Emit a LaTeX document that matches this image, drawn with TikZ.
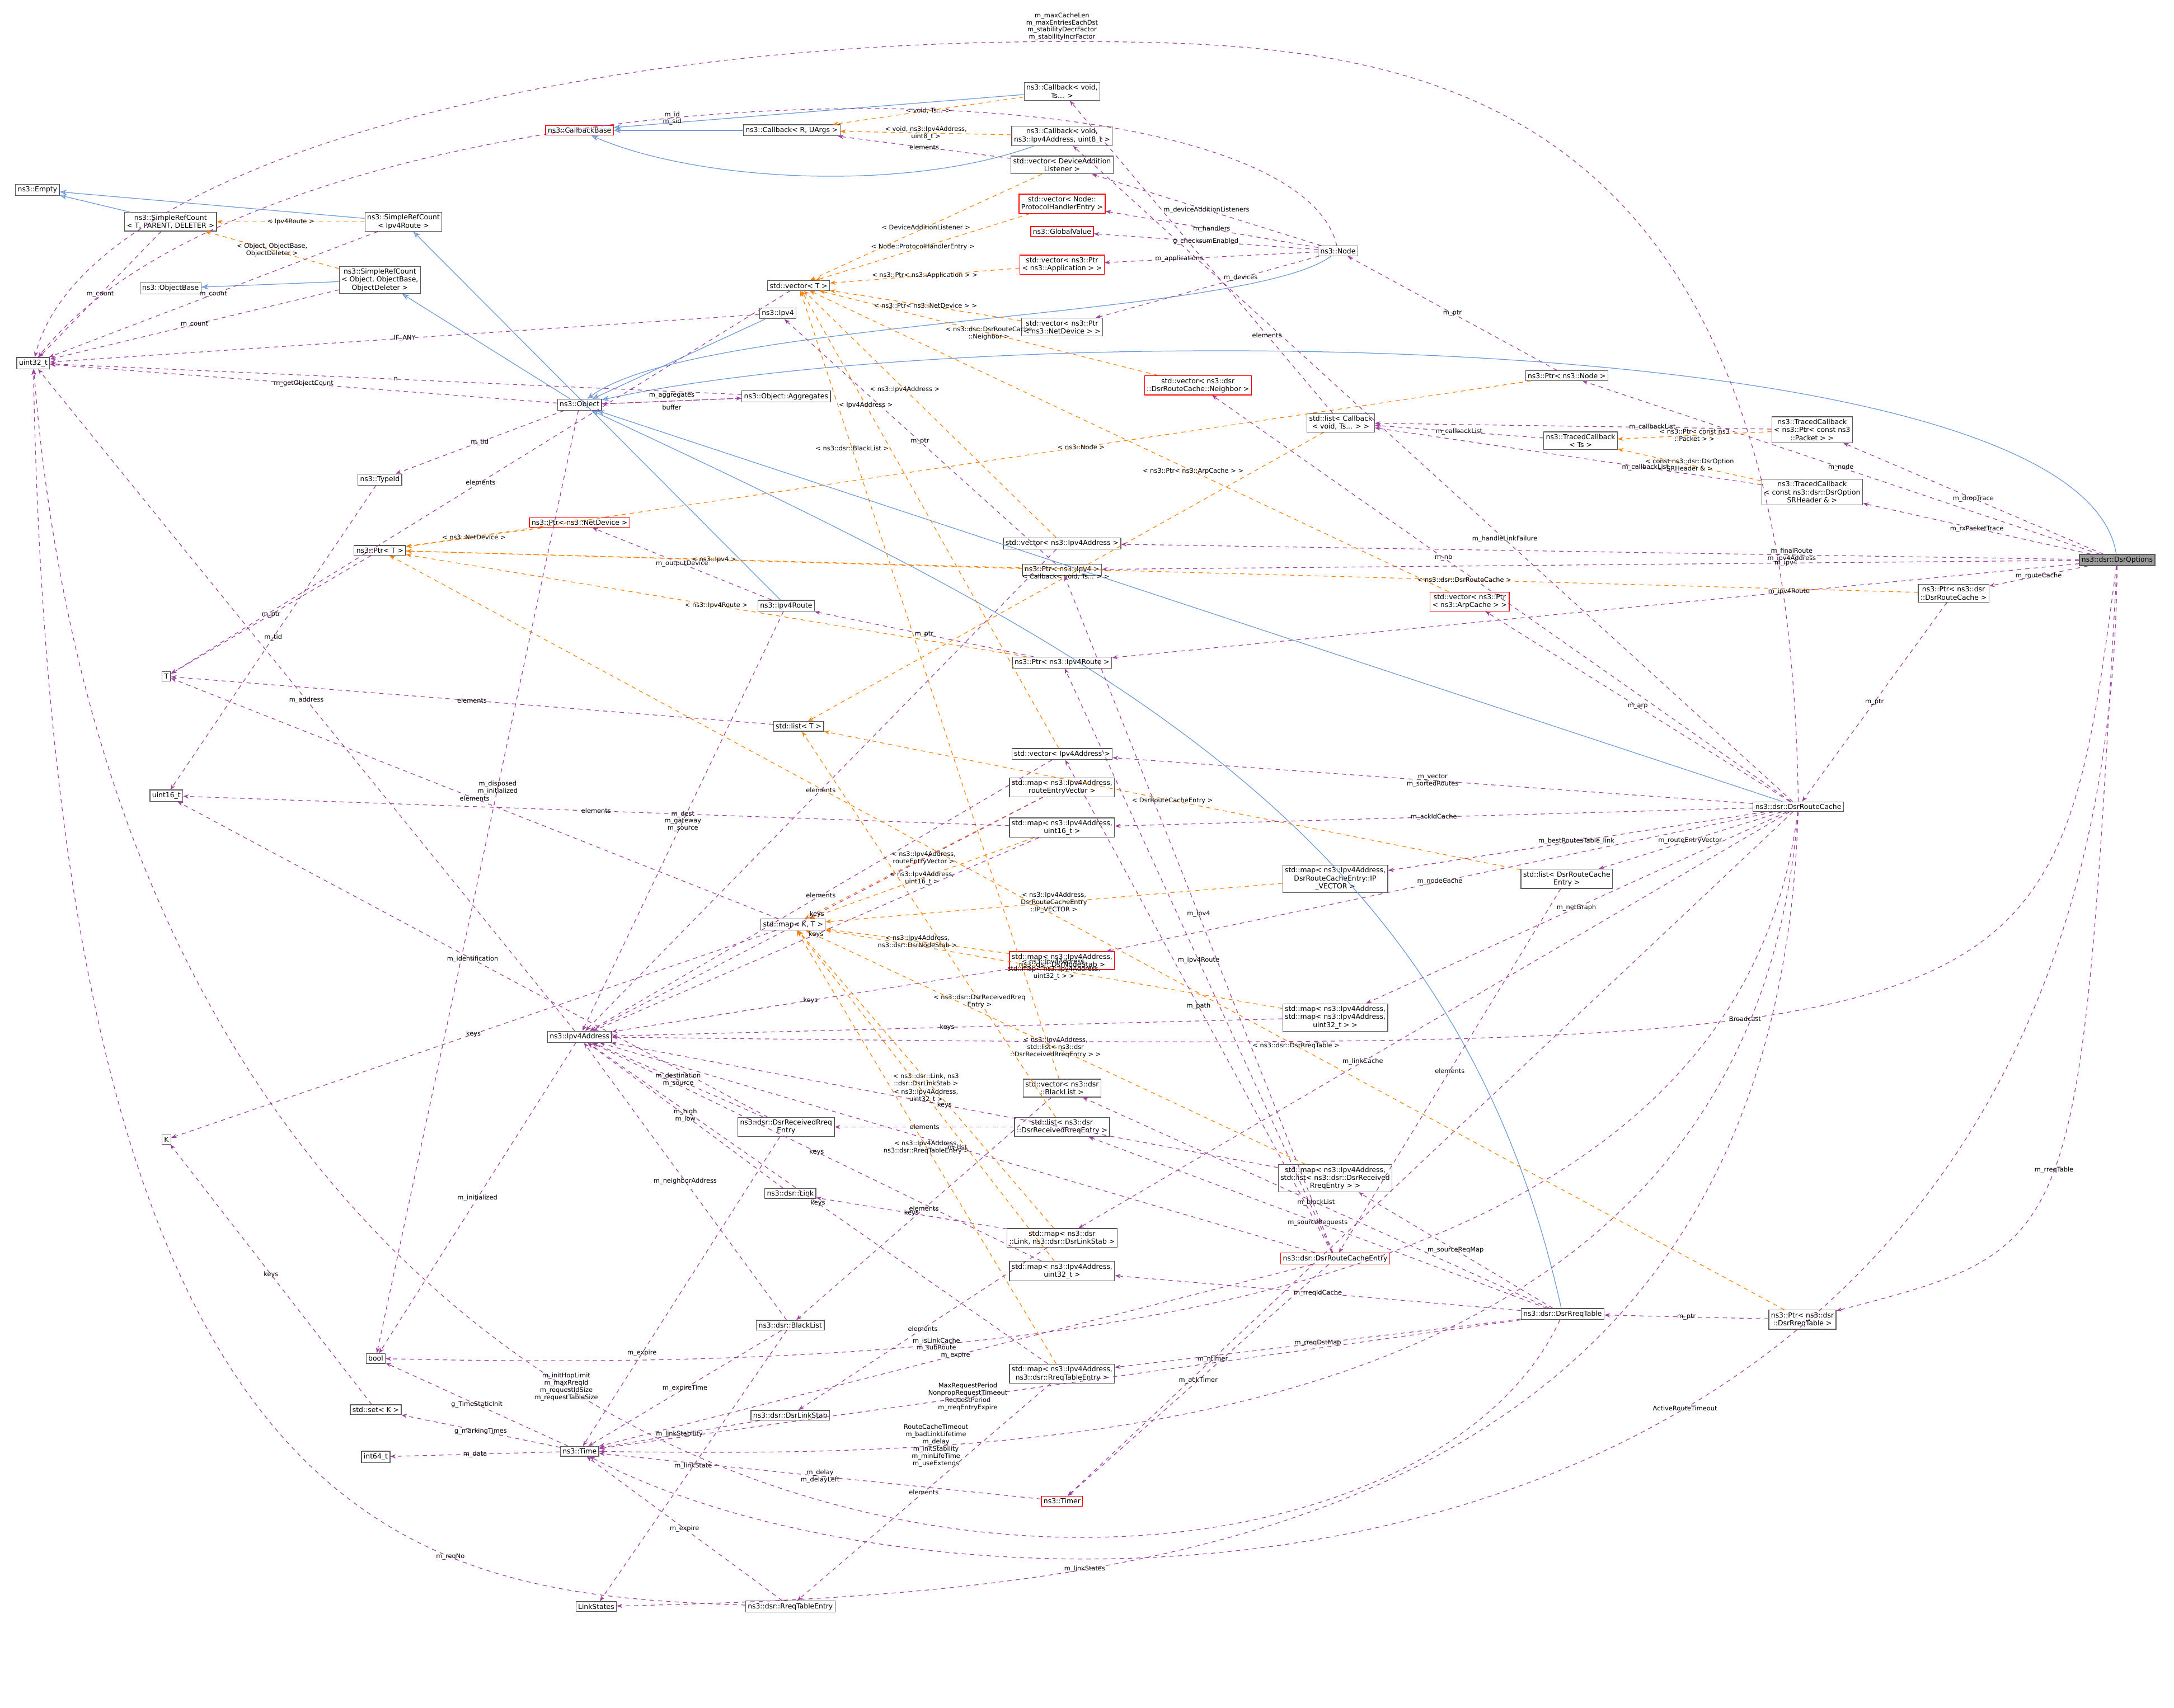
\documentclass[tikz,border=0pt]{standalone}
\usepackage{fontspec}
\setmainfont{DejaVu Sans}
\usetikzlibrary{arrows.meta}
\tikzset{every picture/.style={line width=0.5pt}}
\tikzset{
  cls/.style={draw=black!65, fill=white, font=\fontsize{5}{5.8}\selectfont, align=center, inner sep=1.6pt},
  redcls/.style={cls, draw=red},
  hicls/.style={cls, fill=black!40},
  use/.style={draw=violet!75, dashed, -{Stealth[length=4pt,width=3pt]}},
  tmpl/.style={draw=orange, dashed, -{Stealth[length=4pt,width=3pt]}},
  inh/.style={draw=cyan!50!blue!60, -{Stealth[length=5pt,width=4pt,fill=cyan!50!blue!30]}},
  lbl/.style={font=\fontsize{4.6}{5.2}\selectfont, align=center, inner sep=0.5pt, text=black}
}
\begin{document}
\begin{tikzpicture}[x=1pt,y=1pt,yscale=-1]
\useasboundingbox (0,0) rectangle (1568,1232);

% Classes
\node[hicls] (opts) at (1527,404) {ns3::dsr::DsrOptions};
\node[cls] (pRC) at (1409,428) {ns3::Ptr< ns3::dsr\\::DsrRouteCache >};
\node[cls] (rc) at (1297,582) {ns3::dsr::DsrRouteCache};
\node[cls] (pRT) at (1300,952) {ns3::Ptr< ns3::dsr\\::DsrRreqTable >};
\node[cls] (rt) at (1127,948) {ns3::dsr::DsrRreqTable};
\node[cls] (tcPkt) at (1307,310) {ns3::TracedCallback\\< ns3::Ptr< const ns3\\::Packet > >};
\node[cls] (tcOpt) at (1307,355) {ns3::TracedCallback\\< const ns3::dsr::DsrOption\\SRHeader \& >};
\node[cls] (tcTs) at (1140,318) {ns3::TracedCallback\\< Ts >};
\node[cls] (lstCb) at (967,305) {std::list< Callback\\< void, Ts... > >};
\node[cls] (pNode) at (1130,271) {ns3::Ptr< ns3::Node >};
\node[cls] (node) at (965,181) {ns3::Node};
\node[cls] (cbVoid) at (766,66) {ns3::Callback< void,\\Ts... >};
\node[cls] (cbAddr) at (766,98) {ns3::Callback< void,\\ns3::Ipv4Address, uint8\_t >};
\node[cls] (vDev) at (766,119) {std::vector< DeviceAddition\\Listener >};
\node[redcls] (vPh) at (766,147) {std::vector< Node::\\ProtocolHandlerEntry >};
\node[redcls] (gval) at (766,167) {ns3::GlobalValue};
\node[redcls] (vApp) at (766,191) {std::vector< ns3::Ptr\\< ns3::Application > >};
\node[cls] (vNd) at (766,236) {std::vector< ns3::Ptr\\< ns3::NetDevice > >};
\node[redcls] (vNb) at (864,278) {std::vector< ns3::dsr\\::DsrRouteCache::Neighbor >};
\node[redcls] (cbBase) at (418,94) {ns3::CallbackBase};
\node[cls] (cbR) at (571,94) {ns3::Callback< R, UArgs >};
\node[cls] (empty) at (27,137) {ns3::Empty};
\node[cls] (srcT) at (123,160) {ns3::SimpleRefCount\\< T, PARENT, DELETER >};
\node[cls] (srcRoute) at (291,160) {ns3::SimpleRefCount\\< Ipv4Route >};
\node[cls] (objBase) at (123,208) {ns3::ObjectBase};
\node[cls] (srcObj) at (274,202) {ns3::SimpleRefCount\\< Object, ObjectBase,\\ObjectDeleter >};
\node[cls] (vecT) at (576,206) {std::vector< T >};
\node[cls] (ipv4) at (561,226) {ns3::Ipv4};
\node[cls] (u32) at (24,262) {uint32\_t};
\node[cls] (obj) at (418,292) {ns3::Object};
\node[cls] (aggr) at (567,286) {ns3::Object::Aggregates};
\node[cls] (tid) at (274,346) {ns3::TypeId};
\node[redcls] (pNd) at (418,377) {ns3::Ptr< ns3::NetDevice >};
\node[cls] (ptrT) at (274,397) {ns3::Ptr< T >};
\node[cls] (vAddr) at (766,392) {std::vector< ns3::Ipv4Address >};
\node[cls] (pIpv4) at (766,411) {ns3::Ptr< ns3::Ipv4 >};
\node[redcls] (vArp) at (1060,434) {std::vector< ns3::Ptr\\< ns3::ArpCache > >};
\node[cls] (pRoute) at (766,478) {ns3::Ptr< ns3::Ipv4Route >};
\node[cls] (route) at (567,437) {ns3::Ipv4Route};
\node[cls] (T) at (120,488) {T};
\node[cls] (lstT) at (576,524) {std::list< T >};
\node[cls] (vAddr2) at (766,544) {std::vector< Ipv4Address >};
\node[cls] (mRev) at (766,568) {std::map< ns3::Ipv4Address,\\routeEntryVector >};
\node[cls] (mU16) at (766,597) {std::map< ns3::Ipv4Address,\\uint16\_t >};
\node[cls] (u16) at (120,574) {uint16\_t};
\node[cls] (mapKT) at (572,667) {std::map< K, T >};
\node[redcls] (mStab) at (766,693) {std::map< ns3::Ipv4Address,\\ns3::dsr::DsrNodeStab >};
\node[cls] (mIpv) at (963,634) {std::map< ns3::Ipv4Address,\\DsrRouteCacheEntry::IP\\\_VECTOR >};
\node[cls] (lstEntry) at (1130,634) {std::list< DsrRouteCache\\Entry >};
\node[cls] (mMap) at (963,734) {std::map< ns3::Ipv4Address,\\std::map< ns3::Ipv4Address,\\uint32\_t > >};
\node[cls] (addr) at (418,748) {ns3::Ipv4Address};
\node[cls] (K) at (120,822) {K};
\node[cls] (rxEntry) at (567,813) {ns3::dsr::DsrReceivedRreq\\Entry};
\node[cls] (vBl) at (766,785) {std::vector< ns3::dsr\\::BlackList >};
\node[cls] (lstRx) at (766,813) {std::list< ns3::dsr\\::DsrReceivedRreqEntry >};
\node[cls] (mLst) at (963,850) {std::map< ns3::Ipv4Address,\\std::list< ns3::dsr::DsrReceived\\RreqEntry > >};
\node[cls] (link) at (570,861) {ns3::dsr::Link};
\node[cls] (mLink) at (766,893) {std::map< ns3::dsr\\::Link, ns3::dsr::DsrLinkStab >};
\node[cls] (mU32) at (766,917) {std::map< ns3::Ipv4Address,\\uint32\_t >};
\node[redcls] (entry) at (963,908) {ns3::dsr::DsrRouteCacheEntry};
\node[cls] (bl) at (570,956) {ns3::dsr::BlackList};
\node[cls] (mReq) at (766,991) {std::map< ns3::Ipv4Address,\\ns3::dsr::RreqTableEntry >};
\node[cls] (bool) at (271,980) {bool};
\node[cls] (setK) at (271,1017) {std::set< K >};
\node[cls] (linkStab) at (570,1021) {ns3::dsr::DsrLinkStab};
\node[cls] (i64) at (271,1051) {int64\_t};
\node[cls] (time) at (418,1047) {ns3::Time};
\node[redcls] (timer) at (766,1083) {ns3::Timer};
\node[cls] (lstates) at (430,1159) {LinkStates};
\node[cls] (reqEntry) at (570,1159) {ns3::dsr::RreqTableEntry};
\coordinate (topBend) at (766,30);

% Inheritance
\draw[inh] (opts) .. controls (1500,230) and (700,230) .. (obj);
\draw[inh] (rc) -- (obj);
\draw[inh] (rt) .. controls (1050,600) and (800,470) .. (obj);
\draw[inh] (node) .. controls (900,230) and (500,230) .. (obj);
\draw[inh] (ipv4) -- (obj);
\draw[inh] (obj) -- (srcObj);
\draw[inh] (srcObj) -- (objBase);
\draw[inh] (srcT) -- (empty);
\draw[inh] (srcRoute) -- (empty);
\draw[inh] (route) -- (srcRoute);
\draw[inh] (cbVoid) -- (cbBase);
\draw[inh] (cbR) -- (cbBase);
\draw[inh] (cbAddr) .. controls (650,140) and (500,130) .. (cbBase);

% Templates
\draw[tmpl] (cbVoid) -- node[lbl]{< void, Ts... >} (cbR);
\draw[tmpl] (cbAddr) -- node[lbl]{< void, ns3::Ipv4Address,\\uint8\_t >} (cbR);
\draw[tmpl] (srcRoute) -- node[lbl]{< Ipv4Route >} (srcT);
\draw[tmpl] (srcObj) -- node[lbl]{< Object, ObjectBase,\\ObjectDeleter >} (srcT);
\draw[tmpl] (vDev) -- node[lbl]{< DeviceAdditionListener >} (vecT);
\draw[tmpl] (vPh) -- node[lbl]{< Node::ProtocolHandlerEntry >} (vecT);
\draw[tmpl] (vApp) -- node[lbl]{< ns3::Ptr< ns3::Application > >} (vecT);
\draw[tmpl] (vNb) -- node[lbl]{< ns3::dsr::DsrRouteCache\\::Neighbor >} (vecT);
\draw[tmpl] (vNd) -- node[lbl]{< ns3::Ptr< ns3::NetDevice > >} (vecT);
\draw[tmpl] (vArp) -- node[lbl, pos=0.4]{< ns3::Ptr< ns3::ArpCache > >} (vecT);
\draw[tmpl] (vAddr) -- node[lbl, pos=0.6]{< ns3::Ipv4Address >} (vecT);
\draw[tmpl] (vAddr2) -- node[lbl, pos=0.75]{< Ipv4Address >} (vecT);
\draw[tmpl] (vBl) -- node[lbl, pos=0.8]{< ns3::dsr::BlackList >} (vecT);
\draw[tmpl] (pNode) -- node[lbl, pos=0.4]{< ns3::Node >} (ptrT);
\draw[tmpl] (pRC) -- node[lbl, pos=0.3]{< ns3::dsr::DsrRouteCache >} (ptrT);
\draw[tmpl] (pNd) -- node[lbl]{< ns3::NetDevice >} (ptrT);
\draw[tmpl] (pIpv4) -- node[lbl]{< ns3::Ipv4 >} (ptrT);
\draw[tmpl] (pRoute) -- node[lbl]{< ns3::Ipv4Route >} (ptrT);
\draw[tmpl] (pRT) -- node[lbl, pos=0.35]{< ns3::dsr::DsrRreqTable >} (ptrT);
\draw[tmpl] (lstCb) -- node[lbl]{< Callback< void, Ts... > >} (lstT);
\draw[tmpl] (lstEntry) -- node[lbl]{< DsrRouteCacheEntry >} (lstT);
\draw[tmpl] (lstRx) -- node[lbl, pos=0.3]{< ns3::dsr::DsrReceivedRreq\\Entry >} (lstT);
\draw[tmpl] (tcPkt) -- node[lbl]{< ns3::Ptr< const ns3\\::Packet > >} (tcTs);
\draw[tmpl] (tcOpt) -- node[lbl]{< const ns3::dsr::DsrOption\\SRHeader \& >} (tcTs);
\draw[tmpl] (mRev) -- node[lbl]{< ns3::Ipv4Address,\\routeEntryVector >} (mapKT);
\draw[tmpl] (mU16) -- node[lbl]{< ns3::Ipv4Address,\\uint16\_t >} (mapKT);
\draw[tmpl] (mIpv) -- node[lbl]{< ns3::Ipv4Address,\\DsrRouteCacheEntry\\::IP\_VECTOR >} (mapKT);
\draw[tmpl] (mMap) -- node[lbl]{< ns3::Ipv4Address,\\std::map< ns3::Ipv4Address,\\uint32\_t > >} (mapKT);
\draw[tmpl] (mStab) -- node[lbl]{< ns3::Ipv4Address,\\ns3::dsr::DsrNodeStab >} (mapKT);
\draw[tmpl] (mLst) -- node[lbl]{< ns3::Ipv4Address,\\std::list< ns3::dsr\\::DsrReceivedRreqEntry > >} (mapKT);
\draw[tmpl] (mLink) -- node[lbl]{< ns3::dsr::Link, ns3\\::dsr::DsrLinkStab >} (mapKT);
\draw[tmpl] (mU32) -- node[lbl]{< ns3::Ipv4Address,\\uint32\_t >} (mapKT);
\draw[tmpl] (mReq) -- node[lbl]{< ns3::Ipv4Address,\\ns3::dsr::RreqTableEntry >} (mapKT);

% Members of DsrOptions
\draw[use] (opts) -- node[lbl]{m\_node} (pNode);
\draw[use] (opts) -- node[lbl]{m\_dropTrace} (tcPkt);
\draw[use] (opts) -- node[lbl]{m\_rxPacketTrace} (tcOpt);
\draw[use] (opts) -- node[lbl, pos=0.3]{m\_ipv4} (pIpv4);
\draw[use] (opts) -- node[lbl, pos=0.3]{m\_finalRoute\\m\_ipv4Address} (vAddr);
\draw[use] (opts) -- node[lbl, pos=0.3]{m\_ipv4Route} (pRoute);
\draw[use] (opts) -- node[lbl]{m\_routeCache} (pRC);
\draw[use] (opts) .. controls (1500,900) .. node[lbl]{m\_rreqTable} (pRT);
\draw[use] (opts) .. controls (1480,760) .. node[lbl, pos=0.6]{Broadcast} (addr);
\draw[use] (opts) .. controls (1520,1195) and (700,1195) .. node[lbl, pos=0.4]{ActiveRouteTimeout} (time);
\draw[use] (pRC) -- node[lbl]{m\_ptr} (rc);
\draw[use] (pRT) -- node[lbl]{m\_ptr} (rt);

% Members of DsrRouteCache
\draw[use] (rc) .. controls (1290,40) and (1000,30) .. (topBend) node[lbl, above]{m\_maxCacheLen\\m\_maxEntriesEachDst\\m\_stabilityDecrFactor\\m\_stabilityIncrFactor} .. controls (400,30) and (60,120) .. (u32);
\draw[use] (rc) -- node[lbl, pos=0.4]{m\_handleLinkFailure} (cbAddr);
\draw[use] (rc) -- node[lbl, pos=0.6]{m\_nb} (vNb);
\draw[use] (rc) -- node[lbl]{m\_arp} (vArp);
\draw[use] (rc) -- node[lbl]{m\_vector\\m\_sortedRoutes} (vAddr2);
\draw[use] (rc) -- node[lbl]{m\_ackIdCache} (mU16);
\draw[use] (rc) -- node[lbl]{m\_bestRoutesTable\_link} (mIpv);
\draw[use] (rc) -- node[lbl]{m\_routeEntryVector} (lstEntry);
\draw[use] (rc) -- node[lbl]{m\_nodeCache} (mStab);
\draw[use] (rc) -- node[lbl]{m\_netGraph} (mMap);
\draw[use] (rc) -- node[lbl, pos=0.6]{m\_linkCache} (mLink);
\draw[use] (rc) .. controls (1250,960) and (700,990) .. node[lbl, pos=0.7]{m\_isLinkCache\\m\_subRoute} (bool);
\draw[use] (rc) .. controls (1260,1060) and (700,1050) .. node[lbl, pos=0.75]{RouteCacheTimeout\\m\_badLinkLifetime\\m\_delay\\m\_initStability\\m\_minLifeTime\\m\_useExtends} (time);
\draw[use] (rc) -- node[lbl, pos=0.8]{m\_ntimer} (timer);
\draw[use] (rc) .. controls (1280,1120) and (800,1150) .. node[lbl, pos=0.7]{m\_linkStates} (lstates);

% Members of DsrRreqTable
\draw[use] (rt) -- node[lbl]{m\_blackList} (vBl);
\draw[use] (rt) -- node[lbl]{m\_sourceRequests} (lstRx);
\draw[use] (rt) -- node[lbl]{m\_sourceReqMap} (mLst);
\draw[use] (rt) -- node[lbl]{m\_rreqIdCache} (mU32);
\draw[use] (rt) -- node[lbl]{m\_rreqDstMap} (mReq);
\draw[use] (rt) -- node[lbl, pos=0.6]{MaxRequestPeriod\\NonpropRequestTimeout\\RequestPeriod\\m\_rreqEntryExpire} (time);
\draw[use] (rt) .. controls (1000,1225) and (100,1225) .. node[lbl, pos=0.6]{m\_initHopLimit\\m\_maxRreqId\\m\_requestIdSize\\m\_requestTableSize} (u32);

% Members of DsrRouteCacheEntry
\draw[use] (entry) -- node[lbl]{m\_path} (vAddr2);
\draw[use] (entry) -- node[lbl]{m\_ipv4Route} (pRoute);
\draw[use] (entry) -- node[lbl]{m\_ipv4} (pIpv4);
\draw[use] (entry) -- node[lbl]{m\_ackTimer} (timer);
\draw[use] (entry) -- node[lbl]{m\_dst} (addr);
\draw[use] (entry) -- node[lbl]{m\_expire} (time);
\draw[use] (lstEntry) -- node[lbl]{elements} (entry);

% Members of Node and traced callbacks
\draw[use] (node) -- node[lbl]{m\_deviceAdditionListeners} (vDev);
\draw[use] (node) -- node[lbl]{m\_handlers} (vPh);
\draw[use] (node) -- node[lbl]{g\_checksumEnabled} (gval);
\draw[use] (node) -- node[lbl, pos=0.65]{m\_applications} (vApp);
\draw[use] (node) -- node[lbl, pos=0.35]{m\_devices} (vNd);
\draw[use] (node) .. controls (930,30) and (200,40) .. node[lbl, pos=0.55]{m\_id\\m\_sid} (u32);
\draw[use] (pNode) -- node[lbl]{m\_ptr} (node);
\draw[use] (tcTs) -- node[lbl]{m\_callbackList} (lstCb);
\draw[use] (tcPkt) -- node[lbl, pos=0.3]{m\_callbackList} (lstCb);
\draw[use] (tcOpt) -- node[lbl, pos=0.3]{m\_callbackList} (lstCb);
\draw[use] (lstCb) -- node[lbl, pos=0.25]{elements} (cbVoid);
\draw[use] (vDev) -- node[lbl]{elements} (cbR);

% Object and its parts
\draw[use] (srcT) -- node[lbl]{m\_count} (u32);
\draw[use] (srcRoute) -- node[lbl]{m\_count} (u32);
\draw[use] (srcObj) -- node[lbl]{m\_count} (u32);
\draw[use] (obj) -- node[lbl]{m\_getObjectCount} (u32);
\draw[use] (obj) -- node[lbl, above=1pt]{m\_aggregates} (aggr);
\draw[use] (aggr) -- node[lbl, below=2pt]{buffer} (obj);
\draw[use] (aggr) -- node[lbl]{n} (u32);
\draw[use] (obj) -- node[lbl]{m\_tid} (tid);
\draw[use] (obj) -- node[lbl, pos=0.4]{m\_disposed\\m\_initialized} (bool);
\draw[use] (tid) -- node[lbl]{m\_tid} (u16);
\draw[use] (ipv4) -- node[lbl]{IF\_ANY} (u32);
\draw[use] (route) -- node[lbl]{m\_outputDevice} (pNd);
\draw[use] (route) -- node[lbl]{m\_dest\\m\_gateway\\m\_source} (addr);
\draw[use] (pIpv4) -- node[lbl]{m\_ptr} (ipv4);
\draw[use] (pRoute) -- node[lbl]{m\_ptr} (route);
\draw[use] (ptrT) -- node[lbl]{m\_ptr} (T);

% Containers
\draw[use] (vecT) -- node[lbl]{elements} (T);
\draw[use] (lstT) -- node[lbl]{elements} (T);
\draw[use] (mapKT) -- node[lbl]{elements} (T);
\draw[use] (mapKT) -- node[lbl]{keys} (K);
\draw[use] (setK) -- node[lbl]{keys} (K);
\draw[use] (vAddr) -- node[lbl]{elements} (addr);
\draw[use] (vAddr2) -- node[lbl]{elements} (addr);
\draw[use] (mRev) -- node[lbl]{keys} (addr);
\draw[use] (mU16) -- node[lbl]{keys} (addr);
\draw[use] (mU16) -- node[lbl]{elements} (u16);
\draw[use] (mStab) -- node[lbl]{keys} (addr);
\draw[use] (mMap) -- node[lbl]{keys} (addr);
\draw[use] (mLst) -- node[lbl]{keys} (addr);
\draw[use] (mU32) -- node[lbl]{keys} (addr);
\draw[use] (mLink) -- node[lbl]{keys} (link);
\draw[use] (mLink) -- node[lbl]{elements} (linkStab);
\draw[use] (mReq) -- node[lbl]{keys} (addr);
\draw[use] (mReq) -- node[lbl]{elements} (reqEntry);
\draw[use] (vBl) -- node[lbl]{elements} (bl);
\draw[use] (lstRx) -- node[lbl]{elements} (rxEntry);

% Value types
\draw[use] (addr) -- node[lbl]{m\_address} (u32);
\draw[use] (addr) -- node[lbl]{m\_initialized} (bool);
\draw[use] (rxEntry) -- node[lbl]{m\_destination\\m\_source} (addr);
\draw[use] (rxEntry) -- node[lbl]{m\_identification} (u16);
\draw[use] (rxEntry) -- node[lbl, pos=0.7]{m\_expire} (time);
\draw[use] (link) -- node[lbl]{m\_high\\m\_low} (addr);
\draw[use] (bl) -- node[lbl]{m\_neighborAddress} (addr);
\draw[use] (bl) -- node[lbl]{m\_expireTime} (time);
\draw[use] (bl) -- node[lbl]{m\_linkState} (lstates);
\draw[use] (linkStab) -- node[lbl]{m\_linkStability} (time);
\draw[use] (reqEntry) -- node[lbl]{m\_expire} (time);
\draw[use] (reqEntry) .. controls (300,1150) and (40,1120) .. node[lbl, pos=0.3]{m\_reqNo} (u32);
\draw[use] (time) -- node[lbl]{g\_TimeStaticInit} (bool);
\draw[use] (time) -- node[lbl]{g\_markingTimes} (setK);
\draw[use] (time) -- node[lbl]{m\_data} (i64);
\draw[use] (timer) -- node[lbl]{m\_delay\\m\_delayLeft} (time);
\end{tikzpicture}
\end{document}
